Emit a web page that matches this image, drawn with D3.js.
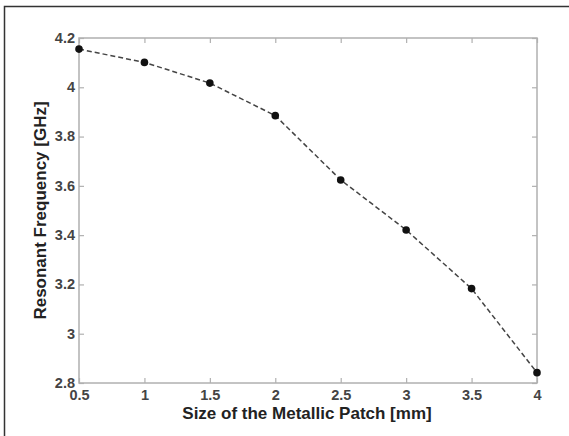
<!DOCTYPE html>
<html><head><meta charset="utf-8">
<script src="https://cdn.jsdelivr.net/npm/d3@7/dist/d3.min.js"></script>
<style>body{margin:0;background:#fff}svg{display:block}text{font-family:"Liberation Sans",Arial,sans-serif}</style>
</head><body><svg id="c" width="569" height="436"></svg>
<script>
const sizes = [0.5, 1, 1.5, 2, 2.5, 3, 3.5, 4];
const freqs = [4.155, 4.101, 4.017, 3.885, 3.624, 3.421, 3.183, 2.842];
const xTicks = [0.5, 1, 1.5, 2, 2.5, 3, 3.5, 4];
const yTicks = [2.8, 3, 3.2, 3.4, 3.6, 3.8, 4, 4.2];

const svg = d3.select("#c");
const L = 79, R = 537, T = 38, B = 383;
const x = d3.scaleLinear().domain([0.5, 4]).range([L, R]);
const y = d3.scaleLinear().domain([2.8, 4.2]).range([B, T]);

// outer frame
svg.append("path").attr("d", `M4.5,436 V6.5 H569`).attr("fill","none").attr("stroke","#333").attr("stroke-width",1.5);

svg.append("rect").attr("x",L).attr("y",T).attr("width",R-L).attr("height",B-T)
  .attr("fill","none").attr("stroke","#b0b0b0").attr("stroke-width",1.5);

const fmt = d => String(d);
const tk = 5;
const gx = svg.append("g").attr("transform",`translate(0,${B})`)
  .call(d3.axisBottom(x).tickValues(xTicks).tickSize(-tk).tickFormat(fmt));
const gxt = svg.append("g").attr("transform",`translate(0,${T})`)
  .call(d3.axisTop(x).tickValues(xTicks).tickSize(-tk).tickFormat(""));
const gy = svg.append("g").attr("transform",`translate(${L},0)`)
  .call(d3.axisLeft(y).tickValues(yTicks).tickSize(-tk).tickFormat(fmt));
const gyr = svg.append("g").attr("transform",`translate(${R},0)`)
  .call(d3.axisRight(y).tickValues(yTicks).tickSize(-tk).tickFormat(""));
[gx,gxt,gy,gyr].forEach(g=>{
  g.select(".domain").remove();
  g.selectAll(".tick line").attr("stroke","#b0b0b0").attr("stroke-width",1.2);
  g.selectAll("text").attr("fill","#444").attr("font-size",14.5).attr("font-weight","bold");
});
gx.selectAll("text").attr("dy","0.95em").attr("y",3);
gy.selectAll("text").attr("x",-4).attr("dy","0.3em");

svg.append("path").datum(sizes.map((s,i)=>[s,freqs[i]]))
  .attr("fill","none").attr("stroke","#444").attr("stroke-width",1.5).attr("stroke-dasharray","5,3")
  .attr("d", d3.line().x(d=>x(d[0])).y(d=>y(d[1])));

svg.selectAll("circle.p").data(sizes).enter().append("circle")
  .attr("cx",(d)=>x(d)).attr("cy",(d,i)=>y(freqs[i])).attr("r",3.8).attr("fill","#111");

svg.append("text").attr("x",307).attr("y",419).attr("text-anchor","middle")
  .attr("font-size",17).attr("font-weight","bold").attr("fill","#222").text("Size of the Metallic Patch [mm]");
svg.append("text").attr("transform",`translate(46,${(T+B)/2}) rotate(-90)`).attr("text-anchor","middle")
  .attr("font-size",17).attr("font-weight","bold").attr("fill","#222").text("Resonant Frequency [GHz]");
</script></body></html>
